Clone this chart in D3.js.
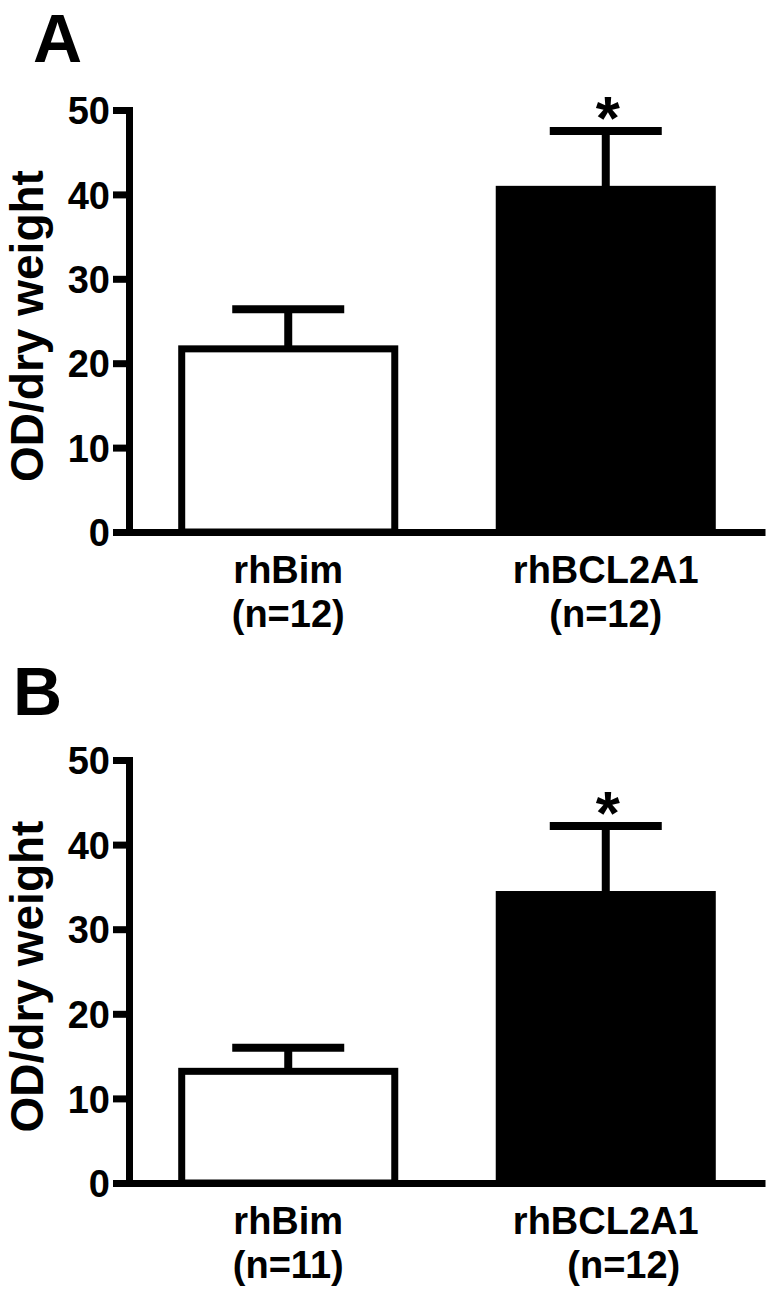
<!DOCTYPE html>
<html>
<head>
<meta charset="utf-8">
<script src="https://cdn.jsdelivr.net/npm/d3@7"></script>
<style>
  html, body { margin: 0; padding: 0; background: #fff; }
  svg { display: block; }
  text { font-family: "Liberation Sans", Arial, sans-serif; font-weight: bold; fill: #000; }
</style>
</head>
<body>
<svg id="chart" width="775" height="1291"></svg>
<script>
// ---- data ----
const categories = ["rhBim", "rhBCL2A1"];
const panelLetters = ["A", "B"];
const nLabelsA = ["(n=12)", "(n=12)"];
const nLabelsB = ["(n=11)", "(n=12)"];
const meansA = [21.7, 40.6];
const errorsA = [4.7, 6.9];
const meansB = [13.2, 34.1];
const errorsB = [2.8, 8.1];
const significant = [false, true];
const yTicks = [0, 10, 20, 30, 40, 50];
const yLabel = "OD/dry weight";
const barFills = ["#fff", "#000"];

const svg = d3.select("#chart");

const panels = [
  { letter: panelLetters[0], means: meansA, errors: errorsA, nLabels: nLabelsA,
    y0: 532, y1: 110, letterX: 33, letterY: 62, nShift: [0, 0] },
  { letter: panelLetters[1], means: meansB, errors: errorsB, nLabels: nLabelsB,
    y0: 1183, y1: 760, letterX: 13, letterY: 715, nShift: [0, 18] }
];

const axisX = 129, axisRight = 765;
const SW = 7;

panels.forEach(p => {
  const g = svg.append("g");
  const y = d3.scaleLinear().domain([0, 50]).range([p.y0, p.y1]);
  const x = d3.scaleBand().domain(categories).range([axisX, axisRight])
    .paddingInner(0.307).paddingOuter(0.155);

  // panel letter
  g.append("text").attr("x", p.letterX).attr("y", p.letterY)
    .attr("font-size", 68).text(p.letter);

  // bars
  g.selectAll("rect.bar").data(categories).join("rect")
    .attr("class", "bar")
    .attr("x", d => x(d) + SW / 2)
    .attr("width", x.bandwidth() - SW)
    .attr("y", (d, i) => y(p.means[i]))
    .attr("height", (d, i) => y(0) - y(p.means[i]))
    .attr("fill", (d, i) => barFills[i])
    .attr("stroke", "#000").attr("stroke-width", SW);

  // error bars (upper only)
  const capW = 112;
  g.selectAll("line.stem").data(categories).join("line")
    .attr("x1", d => x(d) + x.bandwidth() / 2)
    .attr("x2", d => x(d) + x.bandwidth() / 2)
    .attr("y1", (d, i) => y(p.means[i]))
    .attr("y2", (d, i) => y(p.means[i] + p.errors[i]))
    .attr("stroke", "#000").attr("stroke-width", 8);
  g.selectAll("line.cap").data(categories).join("line")
    .attr("x1", d => x(d) + x.bandwidth() / 2 - capW / 2)
    .attr("x2", d => x(d) + x.bandwidth() / 2 + capW / 2)
    .attr("y1", (d, i) => y(p.means[i] + p.errors[i]))
    .attr("y2", (d, i) => y(p.means[i] + p.errors[i]))
    .attr("stroke", "#000").attr("stroke-width", 8);

  // significance stars
  g.selectAll("text.star").data(categories.filter((d, i) => significant[i])).join("text")
    .attr("class", "star")
    .attr("x", d => x(d) + x.bandwidth() / 2 + 2)
    .attr("y", d => y(p.means[categories.indexOf(d)] + p.errors[categories.indexOf(d)]) + 8)
    .attr("text-anchor", "middle")
    .attr("font-size", 62)
    .text("*");

  // y axis
  const yAxis = d3.axisLeft(y).tickValues(yTicks).tickSize(16).tickSizeOuter(0).tickPadding(3);
  const ya = g.append("g").attr("transform", `translate(${axisX},0)`).call(yAxis);
  ya.select(".domain").attr("stroke-width", SW).attr("stroke-linecap", "square");
  ya.selectAll(".tick line").attr("stroke-width", SW);
  ya.selectAll(".tick text").attr("font-size", 38).attr("font-family", "Liberation Sans, Arial, sans-serif")
    .attr("font-weight", "bold").attr("dy", "0.36em");

  // x axis
  const xAxis = d3.axisBottom(x).tickSize(0).tickSizeOuter(0).tickPadding(0);
  const xa = g.append("g").attr("transform", `translate(0,${y(0)})`).call(xAxis);
  xa.select(".domain").attr("stroke-width", SW);
  xa.selectAll(".tick text").remove();
  xa.selectAll(".tick").each(function(d, i) {
    const t = d3.select(this).append("text")
      .attr("text-anchor", "middle").attr("font-size", 38)
      .attr("font-family", "Liberation Sans, Arial, sans-serif").attr("font-weight", "bold")
      .attr("fill", "#000");
    t.append("tspan").attr("x", 0).attr("y", 51).text(d);
    t.append("tspan").attr("x", p.nShift[i]).attr("y", 95).text(p.nLabels[i]);
  });

  // y label
  g.append("text")
    .attr("transform", `translate(43,${(p.y0 + p.y1) / 2 + 5}) rotate(-90)`)
    .attr("text-anchor", "middle").attr("font-size", 46)
    .text(yLabel);
});
</script>
</body>
</html>
